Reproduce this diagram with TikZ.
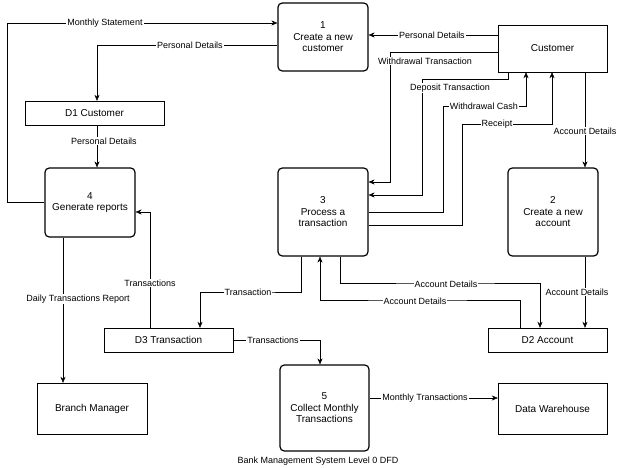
\documentclass[tikz,border=0pt]{standalone}
\usepackage{fontspec}
\setmainfont{Liberation Sans}
\usetikzlibrary{arrows.meta}
\tikzset {
  % process bubble
  proc/.style = {
    draw = black,
    very thick,
    rounded corners = 1.5mm,
    align = center,
    minimum width = 90pt,
    minimum height = 88pt
  },
  % external entity
  ent/.style = {
    draw = black,
    minimum width = 109pt,
    minimum height = 51pt
  },
  % data store
  store/.style = {
    draw = black,
    minimum height = 24pt
  },
  % data flow
  flow/.style = {
    draw = black,
    -{Stealth[length=6pt,width=5pt]}
  },
  lbl/.style = {
    fill = white,
    inner sep = 1pt,
    font = \fontsize{9}{10}\selectfont
  }
}
\begin{document}
\begin{tikzpicture}[x=1pt,y=-1pt,font=\fontsize{10}{11.5}\selectfont]
    \useasboundingbox (0,0) rectangle (624,468);

    \node[proc, minimum height=68pt] (p1) at (323,37) {1\\Create a new\\customer};
    \node[ent, minimum height=47pt] (cust) at (552.5,48.5) {Customer};
    \node[store, minimum width=139pt] (d1) at (94.5,113) {D1 Customer};
    \node[proc, minimum height=69pt] (p4) at (90,202.5) {4\\Generate reports};
    \node[proc] (p3) at (323,212) {3\\Process a\\transaction};
    \node[proc] (p2) at (553,212) {2\\Create a new\\account};
    \node[store, minimum width=129pt] (d3) at (168.5,340) {D3 Transaction};
    \node[store, minimum width=119pt] (d2) at (547.5,340) {D2 Account};
    \node[proc, minimum width=89pt, minimum height=86pt] (p5) at (324.5,408) {5\\Collect Monthly\\Transactions};
    \node[ent, minimum width=110pt] (bm) at (92,408.5) {Branch Manager};
    \node[ent] (dw) at (552.5,408.5) {Data Warehouse};
    \node[font=\fontsize{9}{10}\selectfont] (title) at (318,461) {Bank Management System Level 0 DFD};

    % reports and customer records
    \draw[flow] (p4.west) -- ++(-37,0) |- (p1.west |- 0,23);
    \node[lbl] (ms) at (105,23) {Monthly Statement};
    \draw[flow] (p1.west |- 0,45) -| (d1.north -| 97,0);
    \node[lbl] (pd1) at (190,45) {Personal Details};
    \draw[flow] (cust.west |- 0,35) -- (p1.east |- 0,35);
    \node[lbl] (pd2) at (432,35) {Personal Details};
    \draw[flow] (d1.south -| 97,0) -- (p4.north -| 97,0);
    \node[lbl] (pd3) at (104,141) {Personal Details};

    % customer and transactions
    \draw[flow] (cust.west |- 0,52) -| (390,182) -- (p3.east |- 0,182);
    \node[lbl] (wt) at (425,61) {Withdrawal Transaction};
    \draw[flow] (cust.south -| 508,0) -- (508,79) -| (422,195) -- (p3.east |- 0,195);
    \node[lbl] (dt) at (450,88) {Deposit Transaction};
    \draw[flow] (p3.east |- 0,212) -| (443,106) -| (cust.south -| 526,0);
    \node[lbl] (wc) at (484,106) {Withdrawal Cash};
    \draw[flow] (p3.east |- 0,225) -| (462,124) -| (cust.south -| 552,0);
    \node[lbl] (rc) at (497,124) {Receipt};
    \draw[flow] (cust.south -| 585,0) -- (p2.north -| 585,0);
    \node[lbl] (ad1) at (585,131) {Account Details};

    % data stores
    \draw[flow] (d3.north -| 150,0) |- (p4.east |- 0,212);
    \node[lbl] (tr1) at (150,283) {Transactions};
    \draw[flow] (p3.south -| 301,0) |- (250,292) -| (d3.north -| 200,0);
    \node[lbl] (tr2) at (248,292) {Transaction};
    \draw[flow] (p3.south -| 340,0) |- (450,283) -| (d2.north -| 540,0);
    \node[lbl] (ad2) at (446,284) {Account Details};
    \draw[flow] (d2.north -| 520,0) |- (415,300) -| (p3.south -| 320,0);
    \node[lbl] (ad3) at (415,301) {Account Details};
    \draw[flow] (p2.south -| 585,0) -- (d2.north -| 585,0);
    \node[lbl] (ad4) at (577,292) {Account Details};

    % outputs
    \draw[flow] (p4.south -| 63,0) -- (bm.north -| 63,0);
    \node[lbl] (dtr) at (78,299) {Daily Transactions Report};
    \draw[flow] (d3.east) -| (p5.north -| 320,0);
    \node[lbl] (tr3) at (273,340) {Transactions};
    \draw[flow] (p5.east |- 0,398) -- (dw.west |- 0,398);
    \node[lbl] (mt) at (425,398) {Monthly Transactions};
\end{tikzpicture}
\end{document}
